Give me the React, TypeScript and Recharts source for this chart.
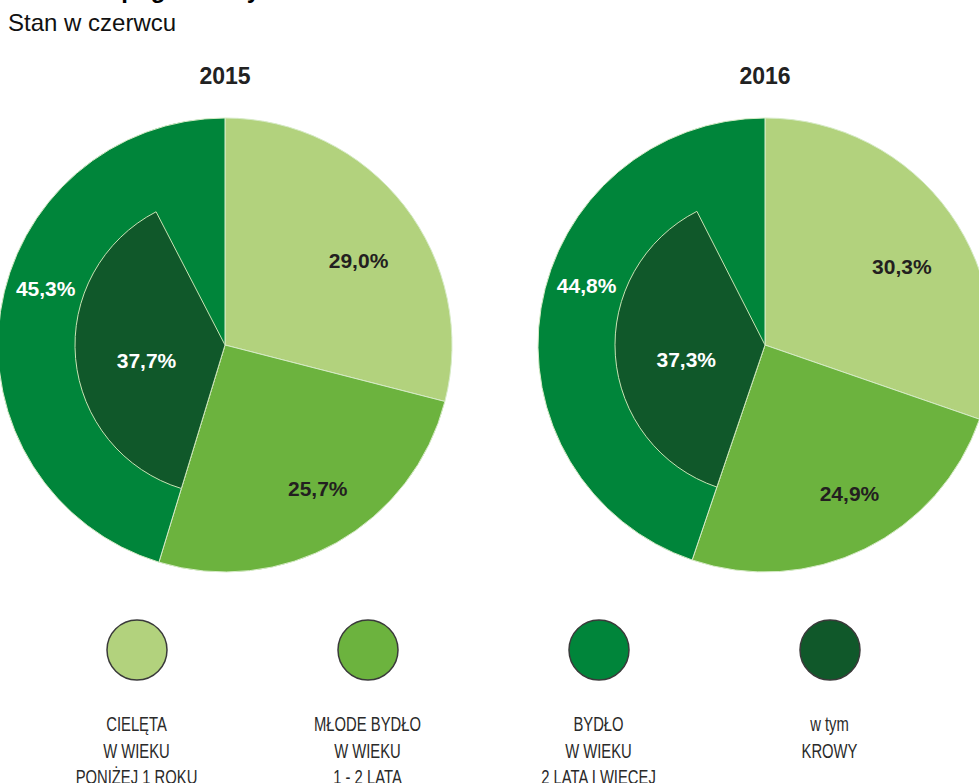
import { Cell, Legend, Pie, PieChart } from 'recharts'

const YEARS = ['2015', '2016']
const CALVES = [29.0, 30.3]
const YOUNG = [25.7, 24.9]
const ADULT = [45.3, 44.8]
const COWS = [37.7, 37.3]

const LEGEND_LINES = [
  ['CIELĘTA', 'W WIEKU', 'PONIŻEJ 1 ROKU'],
  ['MŁODE BYDŁO', 'W WIEKU', '1 - 2 LATA'],
  ['BYDŁO', 'W WIEKU', '2 LATA I WIĘCEJ'],
  ['w tym', 'KROWY'],
]

const COLORS = ['#b2d27d', '#6cb33e', '#00853a', '#10582a']
const TEXT_COLORS = ['#231f20', '#231f20', '#ffffff', '#ffffff']

const CENTERS = [225, 765]
const CY = 345
const OUTER_R = 227
const INNER_R = 150

// radius and angle nudge for each label, as in the original layout
const OUTER_LABEL = [
  { r: 158, shift: -5.5 },
  { r: 171, shift: 3.5 },
  { r: 188, shift: -9 },
]
const INNER_LABEL = { r: 80, shift: 6 }

const RAD = Math.PI / 180
const fmt = (v: number) => v.toFixed(1).replace('.', ',') + '%'

const FONT = "'Liberation Sans', Arial, sans-serif"

function outerLabel(props: any) {
  const { cx, cy, midAngle, index, value } = props
  const cfg = OUTER_LABEL[index]
  const a = (midAngle + cfg.shift) * RAD
  const x = cx + cfg.r * Math.cos(-a)
  const y = cy + cfg.r * Math.sin(-a)
  return (
    <text
      x={x}
      y={y}
      textAnchor="middle"
      dominantBaseline="central"
      fill={TEXT_COLORS[index]}
      fontFamily={FONT}
      fontWeight="bold"
      fontSize={21}
    >
      {fmt(value)}
    </text>
  )
}

function innerLabel(props: any) {
  const { cx, cy, midAngle, index, value } = props
  if (index !== 1) return null
  const a = (midAngle + INNER_LABEL.shift) * RAD
  const x = cx + INNER_LABEL.r * Math.cos(-a)
  const y = cy + INNER_LABEL.r * Math.sin(-a)
  return (
    <text
      x={x}
      y={y}
      textAnchor="middle"
      dominantBaseline="central"
      fill={TEXT_COLORS[3]}
      fontFamily={FONT}
      fontWeight="bold"
      fontSize={21}
    >
      {fmt(value)}
    </text>
  )
}

function LegendContent() {
  return (
    <div style={{ display: 'flex', marginLeft: 21 }}>
      {LEGEND_LINES.map((lines, i) => (
        <div key={i} style={{ width: 231, textAlign: 'center' }}>
          <svg width={64} height={64} style={{ display: 'block', margin: '0 auto' }}>
            <circle cx={32} cy={32} r={30} fill={COLORS[i]} stroke="#3a3a3a" strokeWidth={1.5} />
          </svg>
          <div
            style={{
              marginTop: 29,
              fontFamily: FONT,
              fontSize: 20,
              lineHeight: '26.5px',
              color: '#2a2a2a',
            }}
          >
            {lines.map((l) => (
              <div key={l} style={{ transform: 'scaleX(0.74)', whiteSpace: 'nowrap' }}>
                {l}
              </div>
            ))}
          </div>
        </div>
      ))}
    </div>
  )
}

export default function App() {
  return (
    <div
      style={{
        position: 'fixed',
        left: 0,
        top: 0,
        width: 979,
        height: 783,
        overflow: 'hidden',
        background: '#fff',
      }}
    >
      <div
        style={{
          position: 'absolute',
          left: 8,
          top: -22,
          fontFamily: FONT,
          fontWeight: 'bold',
          fontSize: 24,
          lineHeight: '24px',
          whiteSpace: 'nowrap',
        }}
      >
        Struktura pogłowia bydła
      </div>
      <div
        style={{
          position: 'absolute',
          left: 8,
          top: 11,
          fontFamily: FONT,
          fontSize: 24,
          lineHeight: '24px',
          color: '#111',
        }}
      >
        Stan w czerwcu
      </div>
      {YEARS.map((y, i) => (
        <div
          key={y}
          style={{
            position: 'absolute',
            left: CENTERS[i] - 100,
            width: 200,
            top: 64,
            textAlign: 'center',
            fontFamily: FONT,
            fontWeight: 'bold',
            fontSize: 23,
            lineHeight: '24px',
            color: '#222',
          }}
        >
          {y}
        </div>
      ))}
      <PieChart width={979} height={783} margin={{ top: 0, right: 0, bottom: 0, left: 0 }}>
        {YEARS.map((y, i) => {
          const outer = [
            { name: 'calves', value: CALVES[i] },
            { name: 'young', value: YOUNG[i] },
            { name: 'adult', value: ADULT[i] },
          ]
          const inner = [
            { name: 'before', value: CALVES[i] + YOUNG[i] },
            { name: 'cows', value: COWS[i] },
            { name: 'after', value: ADULT[i] - COWS[i] },
          ]
          return [
            <Pie
              key={'o' + y}
              data={outer}
              dataKey="value"
              cx={CENTERS[i]}
              cy={CY}
              innerRadius={0}
              outerRadius={OUTER_R}
              startAngle={90}
              endAngle={-270}
              stroke="#d6ebc6"
              strokeWidth={1}
              label={outerLabel}
              labelLine={false}
              isAnimationActive={false}
            >
              {outer.map((d, j) => (
                <Cell key={d.name} fill={COLORS[j]} />
              ))}
            </Pie>,
            <Pie
              key={'i' + y}
              data={inner}
              dataKey="value"
              cx={CENTERS[i]}
              cy={CY}
              innerRadius={0}
              outerRadius={INNER_R}
              startAngle={90}
              endAngle={-270}
              label={innerLabel}
              labelLine={false}
              isAnimationActive={false}
            >
              {inner.map((d, j) =>
                j === 1 ? (
                  <Cell key={d.name} fill={COLORS[3]} stroke="#c9e3b4" strokeWidth={1} />
                ) : (
                  <Cell key={d.name} fill="transparent" stroke="none" />
                )
              )}
            </Pie>,
          ]
        })}
        <Legend
          content={<LegendContent />}
          verticalAlign="bottom"
          wrapperStyle={{ position: 'absolute', left: 0, top: 618, width: 979, bottom: 'auto' }}
        />
      </PieChart>
    </div>
  )
}
